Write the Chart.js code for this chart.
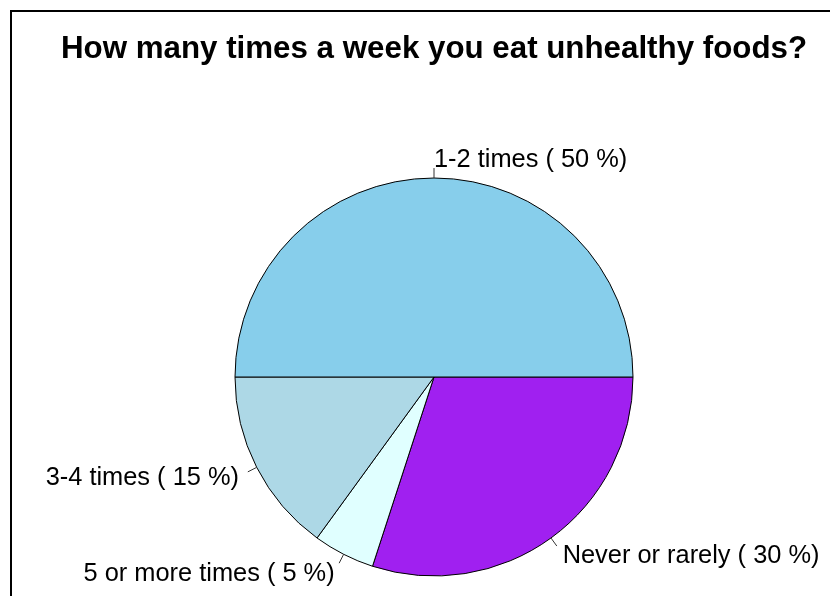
<!DOCTYPE html>
<html>
<head>
<meta charset="utf-8">
<script src="https://cdn.jsdelivr.net/npm/chart.js@4.4.1/dist/chart.umd.min.js"></script>
<style>
    html, body { margin: 0; padding: 0; background: #fff; }
    #wrap { width: 830px; height: 596px; position: relative; }
</style>
</head>
<body>
<div id="wrap"><canvas id="pie" width="830" height="596"></canvas></div>
<script>
// --- data (R order: counter-clockwise from 3 o'clock) ---
const titleText = 'How many times a week you eat unhealthy foods?';
const categories = ['1-2 times', '3-4 times', '5 or more times', 'Never or rarely'];
const percents = [50, 15, 5, 30];
const sliceColors = ['#87CEEB', '#ADD8E6', '#E0FFFF', '#A020F0'];

// Chart.js draws clockwise, so reverse to get the R layout
const labels = categories.slice().reverse();
const values = percents.slice().reverse();
const colors = sliceColors.slice().reverse();

const FONT = '"Liberation Sans", Arial, sans-serif';

// frame, title and the R style outside labels
const decorations = {
    id: 'decorations',
    afterDraw(chart) {
        const ctx = chart.ctx;
        ctx.save();

        // frame (only top/left visible in the crop)
        ctx.strokeStyle = '#000';
        ctx.lineWidth = 2;
        ctx.beginPath();
        ctx.moveTo(11, 600);
        ctx.lineTo(11, 11);
        ctx.lineTo(840, 11);
        ctx.stroke();

        // title
        ctx.fillStyle = '#000';
        ctx.font = 'bold 31.3px ' + FONT;
        ctx.textAlign = 'center';
        ctx.textBaseline = 'middle';
        ctx.fillText(titleText, 434, 49);

        // slice labels
        const meta = chart.getDatasetMeta(0);
        ctx.font = '25.4px ' + FONT;
        ctx.strokeStyle = '#333';
        ctx.lineWidth = 1;
        meta.data.forEach((arc, i) => {
            const p = arc.getProps(['x', 'y', 'startAngle', 'endAngle', 'outerRadius'], true);
            const mid = (p.startAngle + p.endAngle) / 2;
            const c = Math.cos(mid), s = Math.sin(mid);
            const r = p.outerRadius;
            ctx.beginPath();
            ctx.moveTo(p.x + c * r, p.y + s * r);
            ctx.lineTo(p.x + c * r * 1.05, p.y + s * r * 1.05);
            ctx.stroke();
            ctx.textAlign = c < -1e-6 ? 'right' : 'left';
            ctx.textBaseline = 'middle';
            const txt = labels[i] + ' ( ' + values[i] + ' %)';
            ctx.fillText(txt, p.x + c * r * 1.1, p.y + s * r * 1.1 + 1.5);
        });
        ctx.restore();
    }
};

new Chart(document.getElementById('pie'), {
    type: 'pie',
    data: {
        labels: labels,
        datasets: [{
            data: values,
            backgroundColor: colors,
            borderColor: '#000',
            borderWidth: 1,
            hoverOffset: 0
        }]
    },
    options: {
        responsive: false,
        animation: false,
        events: [],
        rotation: 90,
        radius: 199,
        layout: { padding: { left: 235, right: 197, top: 178, bottom: 20 } },
        plugins: {
            legend: { display: false },
            tooltip: { enabled: false },
            title: { display: false }
        }
    },
    plugins: [decorations]
});
</script>
</body>
</html>
